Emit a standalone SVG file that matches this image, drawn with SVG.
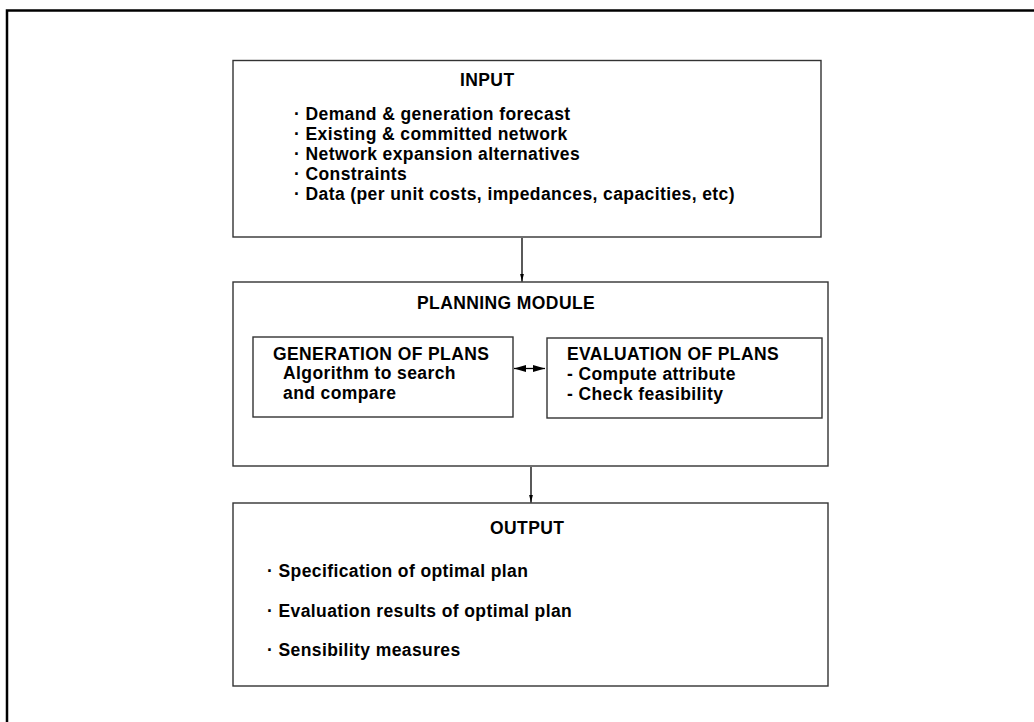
<svg xmlns="http://www.w3.org/2000/svg" width="1034" height="722" viewBox="0 0 1034 722">
<style>
.box{fill:#fff;stroke:#333;stroke-width:1.4}
.t{font-family:"Liberation Sans",Arial,Helvetica,sans-serif;font-weight:bold;font-size:17.5px;letter-spacing:0.4px;fill:#000}
.conn{stroke:#000;stroke-width:1.3;fill:none}
</style>
<defs>
<marker id="ah" markerWidth="8" markerHeight="14" refX="14" refY="3.5" orient="auto" markerUnits="userSpaceOnUse" viewBox="0 0 14 7">
<path d="M0,0 L14,3.5 L0,7 z" fill="#000"/>
</marker>
<marker id="dh" markerWidth="12" markerHeight="7" refX="12" refY="3.5" orient="auto-start-reverse" markerUnits="userSpaceOnUse" viewBox="0 0 12 7">
<path d="M0,0 L12,3.5 L0,7 z" fill="#000"/>
</marker>
</defs>
<rect width="1034" height="722" fill="#fff"/>
<g id="frame">
<path d="M7,722 V10.5 H1034" fill="none" stroke="#000" stroke-width="2.5"/>
</g>
<g id="input">
<rect class="box" x="233" y="60.5" width="588" height="176.5"/>
<text class="t" x="460" y="86">INPUT</text>
<text class="t" x="294" y="120">· Demand &amp; generation forecast</text>
<text class="t" x="294" y="140">· Existing &amp; committed network</text>
<text class="t" x="294" y="160">· Network expansion alternatives</text>
<text class="t" x="294" y="180">· Constraints</text>
<text class="t" x="294" y="200">· Data (per unit costs, impedances, capacities, etc)</text>
</g>
<g id="planning">
<rect class="box" x="233" y="282" width="595" height="184"/>
<text class="t" x="417" y="309">PLANNING MODULE</text>
</g>
<g id="generation">
<rect class="box" x="253" y="337" width="260" height="80"/>
<text class="t" x="273" y="360">GENERATION OF PLANS</text>
<text class="t" x="283" y="379">Algorithm to search</text>
<text class="t" x="283" y="399">and compare</text>
</g>
<g id="evaluation">
<rect class="box" x="547" y="338" width="275" height="80"/>
<text class="t" x="567" y="360">EVALUATION OF PLANS</text>
<text class="t" x="567" y="380">- Compute attribute</text>
<text class="t" x="567" y="400">- Check feasibility</text>
</g>
<g id="output">
<rect class="box" x="233" y="503" width="595" height="183"/>
<text class="t" x="490" y="534">OUTPUT</text>
<text class="t" x="267" y="577">· Specification of optimal plan</text>
<text class="t" x="267" y="617">· Evaluation results of optimal plan</text>
<text class="t" x="267" y="656">· Sensibility measures</text>
</g>
<g id="connectors">
<line class="conn" x1="522" y1="238" x2="522" y2="281.5" marker-end="url(#ah)"/>
<line class="conn" x1="514" y1="368.5" x2="545" y2="368.5" marker-start="url(#dh)" marker-end="url(#dh)"/>
<line class="conn" x1="531" y1="467" x2="531" y2="502.5" marker-end="url(#ah)"/>
</g>
</svg>
